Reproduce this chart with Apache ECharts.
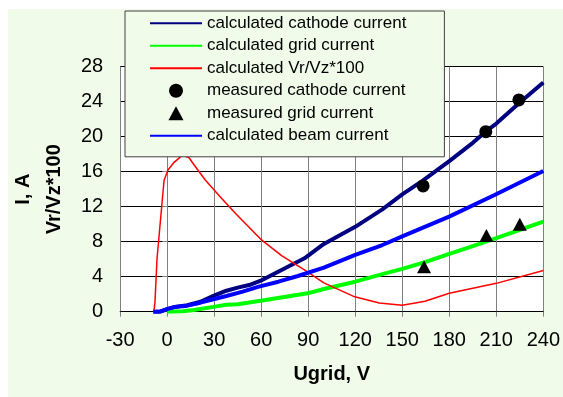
<!DOCTYPE html>
<html>
<head>
<meta charset="utf-8">
<script src="https://cdn.jsdelivr.net/npm/echarts@6/dist/echarts.min.js"></script>
<style>
  body { margin: 0; background: #fff; }
  #wrap { position: relative; width: 563px; height: 397px; }
  #bg { position: absolute; left: 8px; top: 9px; width: 555px; height: 388px; background: #f0fce9; }
  #chart { position: absolute; left: 0; top: 0; width: 563px; height: 397px; }
</style>
</head>
<body>
<div id="wrap">
  <div id="bg"></div>
  <div id="chart"></div>
</div>
<script>
// x values: Ugrid, V ; y values: I, A (or Vr/Vz*100)
var cathodeU = [-8.8, -4.5, 0, 5, 12.9, 21.2, 29.5, 37.8, 45, 52.3, 60.6, 73, 87.6, 100, 120, 137.3, 150, 163.3, 180, 195, 203.3, 210, 225, 240];
var cathodeI = [0, 0, 0.3, 0.55, 0.75, 1.14, 1.8, 2.4, 2.75, 3.05, 3.62, 4.77, 6.1, 7.74, 9.7, 11.7, 13.4, 15.0, 17.2, 19.3, 20.6, 21.5, 23.9, 26.2];

var gridU = [0, 10, 17, 29.5, 37.8, 45, 62.7, 89.6, 100, 120, 137.3, 150, 165, 180, 195, 210, 225, 240];
var gridI = [0, 0.05, 0.2, 0.55, 0.8, 0.85, 1.34, 2.1, 2.6, 3.43, 4.3, 4.9, 5.7, 6.6, 7.5, 8.4, 9.35, 10.3];

var ratioU = [-8.5, -7.8, -6.5, -4.6, -2.5, -2, 0.5, 4.6, 9.8, 14, 17.1, 24.3, 34.8, 43.8, 59.6, 73, 87.6, 100, 119.7, 135.4, 150, 164.5, 180, 210, 240];
var ratioV = [0, 1, 6, 9.8, 14, 15, 16.2, 17.1, 17.9, 17.6, 16.8, 15.05, 12.95, 11.2, 8.3, 6.4, 4.77, 3.3, 1.7, 1.0, 0.75, 1.2, 2.1, 3.24, 4.7];

var beamU = [-8.8, -4.5, 0, 5, 12.9, 21.2, 29.5, 37.8, 48.2, 58.5, 71, 83.4, 100, 120, 137.3, 150, 179.9, 208.9, 240];
var beamI = [0, 0, 0.3, 0.55, 0.69, 1.03, 1.42, 1.79, 2.29, 2.86, 3.43, 4.08, 5.03, 6.5, 7.62, 8.6, 10.86, 13.34, 16.08];

var measCathodeU = [163.3, 203.3, 224.4];
var measCathodeI = [14.37, 20.57, 24.2];
var measGridU = [163.9, 203.7, 225];
var measGridI = [5.15, 8.7, 10.0];

var xTicks = { min: -30, max: 240, step: 30 };
var yTicks = { min: 0, max: 28, step: 4 };

function pairs(xs, ys) {
  var out = [];
  for (var i = 0; i < xs.length; i++) {
    out.push([xs[i], ys[i]]);
  }
  return out;
}

var font = 'Arial, "Liberation Sans", sans-serif';
// line entries in the legend: only the stroke, no dot
var noDot = { opacity: 0 };
// triangle as a path so the legend keeps its aspect
var triIcon = 'path://M7,0L14,13L0,13Z';

var option = {
  animation: false,
  legend: {
    left: 125,
    top: 11,
    orient: 'vertical',
    padding: [1.3, 38, 10, 24],
    itemGap: 0.5,
    itemWidth: 52,
    itemHeight: 14,
    backgroundColor: '#f0fce9',
    borderColor: '#404040',
    borderWidth: 1,
    borderRadius: 0,
    textStyle: { fontFamily: font, fontSize: 17, color: '#000', lineHeight: 22 },
    data: [
      { name: 'calculated cathode current', itemStyle: noDot },
      { name: 'calculated grid current', itemStyle: noDot },
      { name: 'calculated Vr/Vz*100', itemStyle: noDot },
      { name: 'measured cathode current' },
      { name: 'measured grid current', icon: triIcon },
      { name: 'calculated beam current', itemStyle: noDot }
    ]
  },
  grid: {
    left: 111,
    top: 66.7,
    width: 434,
    height: 245,
    show: true,
    backgroundColor: '#fff',
    borderWidth: 0
  },
  xAxis: {
    type: 'value',
    min: xTicks.min,
    max: xTicks.max,
    interval: xTicks.step,
    name: 'Ugrid, V',
    nameLocation: 'middle',
    nameGap: 53,
    nameTextStyle: { fontFamily: font, fontSize: 20, fontWeight: 'bold', color: '#000' },
    axisLine: { onZero: false, lineStyle: { color: '#000', width: 1 } },
    axisTick: { show: true, inside: false, length: 5, lineStyle: { color: '#808080' } },
    axisLabel: { fontFamily: font, fontSize: 20, color: '#000', margin: 19 },
    splitLine: { show: true, lineStyle: { color: '#808080', width: 1 } }
  },
  yAxis: {
    type: 'value',
    min: yTicks.min,
    max: yTicks.max,
    interval: yTicks.step,
    name: 'I, A\nVr/Vz*100',
    nameLocation: 'middle',
    nameRotate: 90,
    nameGap: 30,
    nameTextStyle: { fontFamily: font, fontSize: 20, fontWeight: 'bold', color: '#000', lineHeight: 31 },
    axisLine: { show: true, lineStyle: { color: '#808080', width: 1 } },
    axisTick: { show: true, length: 5, lineStyle: { color: '#808080' } },
    axisLabel: { fontFamily: font, fontSize: 20, color: '#000', margin: 17 },
    splitLine: { show: true, lineStyle: { color: '#000', width: 1 } }
  },
  series: [
    {
      name: 'calculated cathode current',
      type: 'line',
      symbol: 'none',
      data: pairs(cathodeU, cathodeI),
      lineStyle: { color: '#000080', width: 4 },
      itemStyle: { color: '#000080' }
    },
    {
      name: 'calculated grid current',
      type: 'line',
      symbol: 'none',
      data: pairs(gridU, gridI),
      lineStyle: { color: '#00ff00', width: 4 },
      itemStyle: { color: '#00ff00' }
    },
    {
      name: 'calculated Vr/Vz*100',
      type: 'line',
      symbol: 'none',
      data: pairs(ratioU, ratioV),
      lineStyle: { color: '#ff0000', width: 1.5 },
      itemStyle: { color: '#ff0000' }
    },
    {
      name: 'measured cathode current',
      type: 'scatter',
      symbol: 'circle',
      symbolSize: 13,
      data: pairs(measCathodeU, measCathodeI),
      itemStyle: { color: '#000', opacity: 1 },
      z: 5
    },
    {
      name: 'measured grid current',
      type: 'scatter',
      symbol: 'triangle',
      symbolSize: [14, 13],
      data: pairs(measGridU, measGridI),
      itemStyle: { color: '#000', opacity: 1 },
      z: 5
    },
    {
      name: 'calculated beam current',
      type: 'line',
      symbol: 'none',
      data: pairs(beamU, beamI),
      lineStyle: { color: '#0000ff', width: 4 },
      itemStyle: { color: '#0000ff' }
    }
  ]
};

var myChart = echarts.init(document.getElementById('chart'));
myChart.setOption(option);
</script>
</body>
</html>
